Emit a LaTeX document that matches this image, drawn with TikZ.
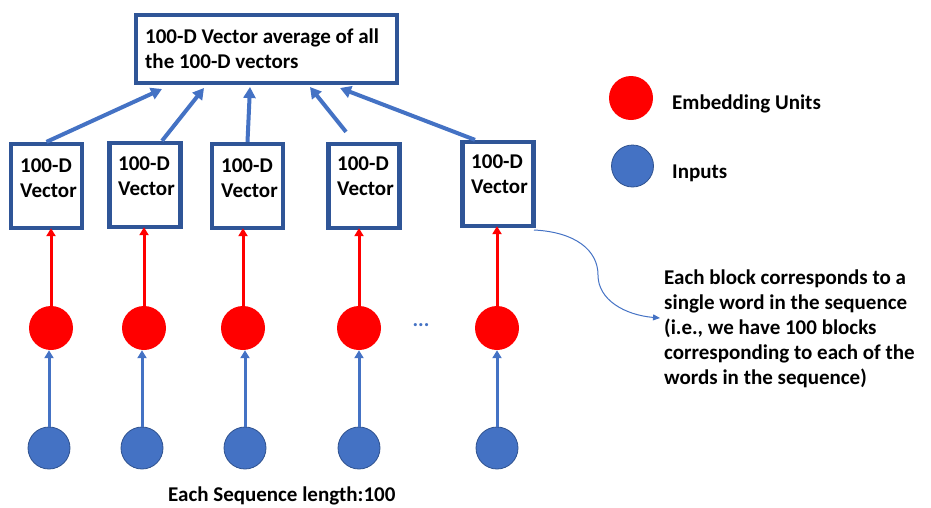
\documentclass[tikz,border=0pt]{standalone}
\usepackage{fontspec}
\setmainfont{Carlito}
\usetikzlibrary{arrows.meta,calc}
\definecolor{boxblue}{RGB}{47,85,151}
\definecolor{arrblue}{RGB}{68,114,196}
\definecolor{inborder}{RGB}{47,82,143}
\definecolor{embred}{RGB}{255,0,0}
\begin{document}
\begin{tikzpicture}[x=1pt,y=-1pt,
  vecbox/.style={draw=boxblue,line width=4.3pt,fill=white,minimum width=71pt,minimum height=84pt,inner sep=0pt},
  topbox/.style={draw=boxblue,line width=4.3pt,fill=white,minimum width=261pt,minimum height=68pt,inner sep=0pt},
  lbl/.style={inner sep=0pt,anchor=base west,font=\fontsize{21}{25}\selectfont\bfseries},
  emb/.style={circle,fill=embred,minimum size=44pt,inner sep=0pt},
  inp/.style={circle,fill=arrblue,draw=inborder,line width=0.8pt,minimum size=42pt,inner sep=0pt},
  toparrow/.style={draw=arrblue,line width=4pt,-{Triangle[length=11pt,width=12pt]}},
  redarrow/.style={draw=embred,line width=3pt,-{Triangle[length=8pt,width=9pt]},shorten >=-2pt},
  inarrow/.style={draw=arrblue,line width=3pt,-{Triangle[length=8pt,width=9pt]}},
  notearrow/.style={draw=arrblue,line width=1pt,-{Triangle[length=7pt,width=6pt]}}
]
\useasboundingbox (0,0) rectangle (931,507);

% top box
\node[topbox] (top) at (266.5,49) {};
\node[lbl] (toptext) at (145,43) {\begin{tabular}[t]{@{}l@{}}100-D Vector average of all\\the 100-D vectors\end{tabular}};

% vector boxes
\node[vecbox] (b1) at (46.5,186) {};
\node[vecbox] (b2) at (145,185) {};
\node[vecbox] (b3) at (247.5,186) {};
\node[vecbox] (b4) at (364,186) {};
\node[vecbox] (b5) at (498,184) {};
\node[lbl] (t1) at (20,172) {\begin{tabular}[t]{@{}l@{}}100-D\\Vector\end{tabular}};
\node[lbl] (t2) at (118,170) {\begin{tabular}[t]{@{}l@{}}100-D\\Vector\end{tabular}};
\node[lbl] (t3) at (221,172) {\begin{tabular}[t]{@{}l@{}}100-D\\Vector\end{tabular}};
\node[lbl] (t4) at (337,170) {\begin{tabular}[t]{@{}l@{}}100-D\\Vector\end{tabular}};
\node[lbl] (t5) at (471,168) {\begin{tabular}[t]{@{}l@{}}100-D\\Vector\end{tabular}};

% arrows to top box
\coordinate (e1) at (162,89);
\coordinate (e2) at (204,88);
\coordinate (e3) at (250,87);
\coordinate (e4) at (310,87);
\coordinate (e5) at (340,88);
\coordinate (s2) at ($(b2.north)+(17,0)$);
\coordinate (s4) at ($(b4.north)+(-18,-10)$);
\coordinate (s5) at ($(b5.north)+(-23,0)$);
\draw[toparrow] (b1.north) -- (e1);
\draw[toparrow] (s2) -- (e2);
\draw[toparrow] (b3.north) -- (e3);
\draw[toparrow] (s4) -- (e4);
\draw[toparrow] (s5) -- (e5);

% embedding units
\node[emb] (r1) at (51,328) {};
\node[emb] (r2) at (144,328) {};
\node[emb] (r3) at (243,328) {};
\node[emb] (r4) at (359,328) {};
\node[emb] (r5) at (497,328) {};

% inputs
\node[inp] (i1) at (49,448) {};
\node[inp] (i2) at (142,448) {};
\node[inp] (i3) at (245,448) {};
\node[inp] (i4) at (359,448) {};
\node[inp] (i5) at (497,448) {};

\foreach \k in {1,...,5}{
  \draw[redarrow] (r\k.north) -- (r\k.north |- b\k.south);
  \draw[inarrow] (i\k.north) -- (i\k.north |- r\k.south);
}

% dots
\node[inner sep=0pt,anchor=base,text=arrblue,font=\fontsize{21}{25}\selectfont\bfseries] (dots) at (421,326) {...};

% bottom caption
\node[lbl] (caption) at (168,501) {Each Sequence length:100};

% legend
\node[emb] (legr) at (631,98) {};
\node[inp] (legb) at (632.5,166) {};
\node[lbl] (legrt) at (672,109) {Embedding Units};
\node[lbl] (legbt) at (672,178) {Inputs};

% note
\node[lbl] (note) at (664,284) {\begin{tabular}[t]{@{}l@{}}Each block corresponds to a\\single word in the sequence\\(i.e., we have 100 blocks\\corresponding to each of the\\words in the sequence)\end{tabular}};
\coordinate (cs) at (534,230);
\coordinate (ce) at (660,318);
\draw[notearrow] (cs) .. controls (575,232) and (598,250) .. (598,275) .. controls (598,300) and (625,315) .. (ce);
\end{tikzpicture}
\end{document}
